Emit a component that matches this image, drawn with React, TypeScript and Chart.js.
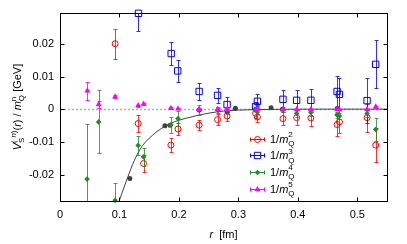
import React, { useEffect, useRef } from 'react';
import { Chart, registerables } from 'chart.js';

Chart.register(...registerables);

const FONT = "'Liberation Sans', Arial, Helvetica, sans-serif";

// ---- axis limits / ticks ----
const X_MIN = 0;
const X_MAX = 0.55;
const Y_MIN = -0.028;
const Y_MAX = 0.0295;
const X_STEP = 0.1;
const Y_STEP = 0.01;

// ---- 1/m_Q^2 (red circles) ----
const R2 = [0.0927, 0.1315, 0.1405, 0.1865, 0.1985, 0.234, 0.265, 0.281, 0.329, 0.332, 0.375, 0.398, 0.422, 0.466, 0.47, 0.5165, 0.531];
const V2 = [0.0201, -0.0043, -0.0165, -0.0109, -0.006, -0.0048, -0.0031, -0.002, -0.0012, -0.0023, -0.0028, -0.0025, -0.0026, -0.0046, -0.0038, -0.0025, -0.0109];
const E2 = [0.0046, 0.0026, 0.0027, 0.0021, 0.0018, 0.0015, 0.0017, 0.0015, 0.0015, 0.0015, 0.002, 0.0024, 0.0024, 0.0035, 0.0035, 0.0043, 0.0052];

// ---- 1/m_Q^3 (blue squares) ----
const R3 = [0.132, 0.187, 0.198, 0.234, 0.265, 0.281, 0.329, 0.332, 0.375, 0.398, 0.422, 0.466, 0.47, 0.5165, 0.531];
const V3 = [0.0294, 0.0171, 0.0118, 0.0055, 0.0043, 0.0015, 0.0009, 0.0025, 0.0031, 0.0028, 0.0028, 0.0055, 0.0046, 0.0027, 0.0138];
const E3 = [0.0055, 0.0036, 0.0033, 0.0027, 0.0024, 0.0023, 0.0015, 0.0023, 0.003, 0.0031, 0.0036, 0.0047, 0.0049, 0.0069, 0.0073];

// ---- 1/m_Q^4 (green diamonds) ----
const R4 = [0.0455, 0.065, 0.0927, 0.1315, 0.1405, 0.1865, 0.1985, 0.234, 0.265, 0.281, 0.329, 0.332, 0.375, 0.398, 0.422, 0.466, 0.47, 0.5165, 0.531];
const V4 = [-0.0213, -0.0038, -0.0278, -0.011, -0.0145, -0.0047, -0.0028, -0.0002, -0.0002, -0.0003, -0.0001, 0.0, 0.0001, -0.0012, -0.0009, -0.0017, -0.002, -0.0012, -0.0061];
const E4 = [0.0167, 0.0096, 0.0052, 0.003, 0.0028, 0.0024, 0.0022, 0.0015, 0.001, 0.001, 0.0008, 0.0015, 0.0008, 0.001, 0.001, 0.001, 0.001, 0.001, 0.0034];

// ---- 1/m_Q^5 (magenta triangles) ----
const R5 = [0.046, 0.065, 0.0927, 0.1315, 0.1405, 0.1865, 0.1985, 0.234, 0.265, 0.281, 0.332, 0.375, 0.398, 0.422, 0.466, 0.47, 0.5165, 0.531];
const V5 = [0.0057, 0.0015, 0.0039, 0.0012, 0.0017, 0.0004, 0.0002, 0.0001, 0.0001, 0.0001, 0.0001, 0.0, 0.0, 0.0, 0.0, 0.0, 0.0, 0.0008];
const E5 = [0.0027, 0.001, 0.0005, 0.0003, 0.0003, 0.0002, 0.0002, 0.0002, 0.0002, 0.0002, 0.0002, 0.0002, 0.0002, 0.0002, 0.0002, 0.0002, 0.0002, 0.0003];

// ---- gray reference points ----
const R0 = [0.1175, 0.1765, 0.185, 0.234, 0.281, 0.295, 0.329, 0.355, 0.374, 0.4665];
const V0 = [-0.0211, -0.005, -0.0048, -0.0002, -0.0007, 0.0004, 0.0001, 0.0005, 0.0001, 0.0003];

// ---- curve ----
const CURVE_R = [0.0995, 0.104, 0.108, 0.1164, 0.122, 0.1276, 0.133, 0.139, 0.15, 0.1557, 0.165, 0.178, 0.195, 0.212, 0.234, 0.251, 0.275, 0.3, 0.35, 0.45, 0.55];
const CURVE_V = [-0.028, -0.0257, -0.0237, -0.0195, -0.0169, -0.0146, -0.0127, -0.011, -0.0088, -0.0079, -0.0065, -0.005, -0.0036, -0.0027, -0.0017, -0.0011, -0.0005, -0.0002, 0.0, 0.0001, 0.0001];

const LEGEND_LABELS = ['2', '3', '4', '5'];

const RED = '#ff0000';
const BLUE = '#0000ff';
const GREEN = '#228b22';
const MAGENTA = '#ff00ff';
const GRAY = '#404040';

function pts(rs: number[], vs: number[]) {
  return rs.map((r, i) => ({ x: r, y: vs[i] }));
}

type Seg = { t: string; it?: boolean; sz: number; dy: number };
type Item = Seg | { stack: Seg[] };

function fontOf(s: Seg) {
  return `${s.it ? 'italic ' : ''}${s.sz}px ${FONT}`;
}

function itemWidth(ctx: CanvasRenderingContext2D, it: Item) {
  if ('stack' in it) {
    return Math.max(...it.stack.map((s) => { ctx.font = fontOf(s); return ctx.measureText(s.t).width; }));
  }
  ctx.font = fontOf(it);
  return ctx.measureText(it.t).width;
}

function drawRich(ctx: CanvasRenderingContext2D, items: Item[], x: number, y: number, center: boolean) {
  let total = 0;
  items.forEach((it) => { total += itemWidth(ctx, it); });
  let cx = center ? x - total / 2 : x;
  ctx.textAlign = 'left';
  ctx.textBaseline = 'alphabetic';
  items.forEach((it) => {
    const w = itemWidth(ctx, it);
    const segs = 'stack' in it ? it.stack : [it];
    segs.forEach((s) => {
      ctx.font = fontOf(s);
      ctx.fillText(s.t, cx, y + s.dy);
    });
    cx += w;
  });
}

function drawMarker(ctx: CanvasRenderingContext2D, style: string, x: number, y: number, color: string) {
  ctx.save();
  ctx.strokeStyle = color;
  ctx.fillStyle = color;
  ctx.lineWidth = 1;
  ctx.beginPath();
  if (style === 'circle') {
    ctx.arc(x, y, 3, 0, Math.PI * 2);
    ctx.stroke();
  } else if (style === 'rect') {
    ctx.rect(x - 3.2, y - 3.2, 6.4, 6.4);
    ctx.stroke();
  } else if (style === 'rectRot') {
    const r = 2.8;
    ctx.moveTo(x, y - r); ctx.lineTo(x + r, y); ctx.lineTo(x, y + r); ctx.lineTo(x - r, y); ctx.closePath();
    ctx.fill();
  } else if (style === 'triangle') {
    const r = 3.5;
    ctx.moveTo(x, y - r);
    ctx.lineTo(x + r * Math.sin(2 * Math.PI / 3), y + r / 2);
    ctx.lineTo(x - r * Math.sin(2 * Math.PI / 3), y + r / 2);
    ctx.closePath();
    ctx.fill();
  }
  ctx.restore();
}

const errorBarPlugin = {
  id: 'errbars',
  beforeDatasetDraw(chart: any, args: any) {
    const ds = chart.data.datasets[args.index];
    if (!ds.errors) return;
    const { ctx, chartArea: ca, scales } = chart;
    const xs = scales.x, ys = scales.y;
    ctx.save();
    ctx.beginPath();
    ctx.rect(ca.left, ca.top, ca.right - ca.left, ca.bottom - ca.top);
    ctx.clip();
    ctx.strokeStyle = ds.errColor;
    ctx.lineWidth = 1;
    ds.data.forEach((p: any, i: number) => {
      const e = ds.errors[i];
      const px = Math.round(xs.getPixelForValue(p.x)) + 0.5;
      const y1 = Math.round(ys.getPixelForValue(p.y + e)) + 0.5;
      const y2 = Math.round(ys.getPixelForValue(p.y - e)) + 0.5;
      ctx.beginPath();
      ctx.moveTo(px, y1); ctx.lineTo(px, y2);
      ctx.moveTo(px - 2, y1); ctx.lineTo(px + 2, y1);
      ctx.moveTo(px - 2, y2); ctx.lineTo(px + 2, y2);
      ctx.stroke();
    });
    ctx.restore();
  },
};

const zeroLinePlugin = {
  id: 'zeroline',
  beforeDatasetsDraw(chart: any) {
    const { ctx, chartArea: ca, scales } = chart;
    const y0 = Math.round(scales.y.getPixelForValue(0)) + 0.5;
    ctx.save();
    ctx.strokeStyle = '#b0b0b0';
    ctx.lineWidth = 1.5;
    ctx.setLineDash([2, 2]);
    ctx.beginPath();
    ctx.moveTo(ca.left, y0);
    ctx.lineTo(ca.right, y0);
    ctx.stroke();
    ctx.restore();
  },
};

const framePlugin = {
  id: 'frame',
  afterDraw(chart: any) {
    const { ctx, chartArea: ca, scales } = chart;
    const xs = scales.x, ys = scales.y;
    ctx.save();
    ctx.strokeStyle = '#000';
    ctx.lineWidth = 1;
    const L = Math.round(ca.left) + 0.5, R = Math.round(ca.right) + 0.5;
    const T = Math.round(ca.top) + 0.5, B = Math.round(ca.bottom) + 0.5;
    ctx.strokeRect(L, T, R - L, B - T);
    ctx.beginPath();
    xs.ticks.forEach((t: any) => {
      const px = Math.round(xs.getPixelForValue(t.value)) + 0.5;
      ctx.moveTo(px, B); ctx.lineTo(px, B - 4);
      ctx.moveTo(px, T); ctx.lineTo(px, T + 4);
    });
    ys.ticks.forEach((t: any) => {
      const py = Math.round(ys.getPixelForValue(t.value)) + 0.5;
      ctx.moveTo(L, py); ctx.lineTo(L + 4, py);
      ctx.moveTo(R, py); ctx.lineTo(R - 4, py);
    });
    ctx.stroke();

    ctx.fillStyle = '#000';
    // x axis title
    drawRich(ctx, [
      { t: 'r', it: true, sz: 11, dy: 0 },
      { t: '  [fm]', sz: 11, dy: 0 },
    ], (ca.left + ca.right) / 2, 238, true);

    // y axis title
    ctx.save();
    ctx.translate(21, (ca.top + ca.bottom) / 2);
    ctx.rotate(-Math.PI / 2);
    drawRich(ctx, [
      { t: 'V', it: true, sz: 11, dy: 0 },
      { stack: [{ t: 'S', sz: 8, dy: 3 }, { t: '(', sz: 8, dy: -5 }] },
      { t: 'n', it: true, sz: 8, dy: -5 },
      { t: ')', sz: 8, dy: -5 },
      { t: '(', sz: 11, dy: 0 },
      { t: 'r', it: true, sz: 11, dy: 0 },
      { t: ') / ', sz: 11, dy: 0 },
      { t: 'm', it: true, sz: 11, dy: 0 },
      { stack: [{ t: 'Q', sz: 8, dy: 3 }, { t: 'n', sz: 8, dy: -5 }] },
      { t: ' [GeV]', sz: 11, dy: 0 },
    ], 0, 0, true);
    ctx.restore();

    // legend
    const entries = [
      { c: RED, s: 'circle' },
      { c: BLUE, s: 'rect' },
      { c: GREEN, s: 'rectRot' },
      { c: MAGENTA, s: 'triangle' },
    ];
    entries.forEach((e, i) => {
      const y = 138.5 + i * 16.7;
      const yy = Math.round(y) + 0.5;
      ctx.strokeStyle = e.c;
      ctx.lineWidth = 1;
      ctx.beginPath();
      ctx.moveTo(250, yy); ctx.lineTo(265, yy);
      ctx.moveTo(250.5, yy - 2); ctx.lineTo(250.5, yy + 2);
      ctx.moveTo(264.5, yy - 2); ctx.lineTo(264.5, yy + 2);
      ctx.stroke();
      drawMarker(ctx, e.s, 257.5, yy, e.c);
      ctx.fillStyle = '#000';
      drawRich(ctx, [
        { t: '1/', sz: 11, dy: 0 },
        { t: 'm', it: true, sz: 11, dy: 0 },
        { stack: [{ t: 'Q', sz: 8, dy: 3.5 }, { t: LEGEND_LABELS[i], sz: 8, dy: -5.5 }] },
      ], 270, y + 4, false);
    });
    ctx.restore();
  },
};

export default function App() {
  const ref = useRef<HTMLCanvasElement | null>(null);

  useEffect(() => {
    if (!ref.current) return;
    const tickFont = { family: FONT, size: 11 };
    const chart = new Chart(ref.current, {
      type: 'scatter',
      data: {
        datasets: [
          {
            label: 'curve',
            data: pts(CURVE_R, CURVE_V),
            showLine: true,
            borderColor: GRAY,
            borderWidth: 1,
            pointRadius: 0,
            cubicInterpolationMode: 'monotone',
            order: 6,
          } as any,
          {
            label: 'ref',
            data: pts(R0, V0),
            pointStyle: 'circle',
            pointRadius: 2.5,
            backgroundColor: GRAY,
            borderColor: GRAY,
            borderWidth: 0,
            order: 5,
          },
          {
            label: '1/mQ^2',
            data: pts(R2, V2),
            errors: E2,
            errColor: 'rgba(255,0,0,0.8)',
            pointStyle: 'circle',
            pointRadius: 3,
            backgroundColor: 'rgba(0,0,0,0)',
            borderColor: RED,
            borderWidth: 1,
            order: 4,
          } as any,
          {
            label: '1/mQ^3',
            data: pts(R3, V3),
            errors: E3,
            errColor: 'rgba(0,0,255,0.8)',
            pointStyle: 'rect',
            pointRadius: 4.5,
            backgroundColor: 'rgba(0,0,0,0)',
            borderColor: BLUE,
            borderWidth: 1,
            clip: false,
            order: 3,
          } as any,
          {
            label: '1/mQ^4',
            data: pts(R4, V4),
            errors: E4,
            errColor: 'rgba(34,139,34,0.8)',
            pointStyle: 'rectRot',
            pointRadius: 2.8,
            backgroundColor: GREEN,
            borderColor: GREEN,
            borderWidth: 0,
            clip: false,
            order: 2,
          } as any,
          {
            label: '1/mQ^5',
            data: pts(R5, V5),
            errors: E5,
            errColor: 'rgba(255,0,255,0.85)',
            pointStyle: 'triangle',
            pointRadius: 3.5,
            backgroundColor: MAGENTA,
            borderColor: MAGENTA,
            borderWidth: 0,
            order: 1,
          } as any,
        ],
      },
      options: {
        animation: false,
        responsive: false,
        devicePixelRatio: 1,
        layout: { padding: { left: 0, right: 20, top: 13, bottom: 0 } },
        plugins: { legend: { display: false }, tooltip: { enabled: false }, title: { display: false } },
        scales: {
          x: {
            type: 'linear',
            min: X_MIN,
            max: X_MAX,
            grid: { display: false, drawTicks: false },
            border: { display: false },
            ticks: {
              stepSize: X_STEP,
              includeBounds: false,
              color: '#000',
              font: tickFont,
              padding: 7,
              maxRotation: 0,
              callback: (v: any) => String(Math.round(Number(v) * 10) / 10),
            },
            afterFit: (s: any) => { s.height = 43; },
          },
          y: {
            type: 'linear',
            min: Y_MIN,
            max: Y_MAX,
            grid: { display: false, drawTicks: false },
            border: { display: false },
            ticks: {
              stepSize: Y_STEP,
              includeBounds: false,
              color: '#000',
              font: tickFont,
              padding: 6,
              callback: (v: any) => String(Math.round(Number(v) * 100) / 100),
            },
            afterFit: (s: any) => { s.width = 60; },
          },
        },
      } as any,
      plugins: [zeroLinePlugin, errorBarPlugin, framePlugin],
    });
    return () => chart.destroy();
  }, []);

  return (
    <div style={{ position: 'fixed', left: 0, top: 0, width: 407, height: 244, background: '#fff' }}>
      <canvas ref={ref} width={407} height={244} style={{ width: 407, height: 244, display: 'block' }} />
    </div>
  );
}
